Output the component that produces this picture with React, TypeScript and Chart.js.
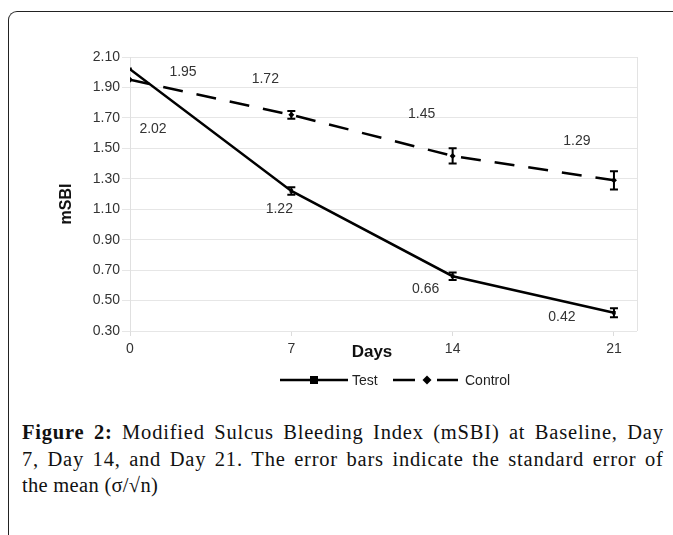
import React, { useEffect, useRef } from "react";
import { Chart, registerables } from "chart.js";

Chart.register(...registerables);

const days = [0, 7, 14, 21];
const testValues = [2.02, 1.22, 0.66, 0.42];
const controlValues = [1.95, 1.72, 1.45, 1.29];
const testErrors = [0, 0.025, 0.025, 0.03];
const controlErrors = [0, 0.025, 0.05, 0.06];
const xTicks = [0, 7, 14, 21];
const yTicks = [0.3, 0.5, 0.7, 0.9, 1.1, 1.3, 1.5, 1.7, 1.9, 2.1];
const seriesNames = ["Test", "Control"];
const xTitle = "Days";
const yTitle = "mSBI";

// label placement offsets (px) relative to each point
const testLabelOffsets = [[23, 60], [-12, 18], [-27, 13], [-52, 4]];
const controlLabelOffsets = [[53, -8], [-26, -36], [-31, -42], [-37, -39]];

const FONT = "'Liberation Sans', Arial, sans-serif";

const overlayPlugin = {
  id: "overlay",
  beforeDatasetsDraw(chart: any) {
    const { ctx, chartArea } = chart;
    ctx.save();
    ctx.strokeStyle = "#e3e3e3";
    ctx.lineWidth = 1;
    ctx.beginPath();
    ctx.moveTo(chartArea.right + 0.5, chartArea.top);
    ctx.lineTo(chartArea.right + 0.5, chartArea.bottom);
    ctx.stroke();
    ctx.restore();
  },
  afterDatasetsDraw(chart: any) {
    const { ctx } = chart;
    const yScale = chart.scales.y;
    const errs = [testErrors, controlErrors];
    const vals = [testValues, controlValues];
    const offs = [testLabelOffsets, controlLabelOffsets];
    ctx.save();
    for (let i = 0; i < 2; i++) {
      const meta = chart.getDatasetMeta(i);
      meta.data.forEach((pt: any, j: number) => {
        const e = errs[i][j];
        const v = vals[i][j];
        const x = pt.x;
        if (e > 0) {
          const yT = yScale.getPixelForValue(v + e);
          const yB = yScale.getPixelForValue(v - e);
          ctx.strokeStyle = "#000";
          ctx.lineWidth = 2;
          ctx.setLineDash([]);
          ctx.beginPath();
          ctx.moveTo(x, yT);
          ctx.lineTo(x, yB);
          ctx.moveTo(x - 4, yT);
          ctx.lineTo(x + 4, yT);
          ctx.moveTo(x - 4, yB);
          ctx.lineTo(x + 4, yB);
          ctx.stroke();
        }
        ctx.fillStyle = "#333";
        ctx.font = `14px ${FONT}`;
        ctx.textAlign = "center";
        ctx.textBaseline = "middle";
        ctx.fillText(v.toFixed(2), x + offs[i][j][0], pt.y + offs[i][j][1]);
      });
    }
    ctx.restore();
  },
  afterDraw(chart: any) {
    const { ctx, chartArea } = chart;
    ctx.save();
    // axis titles
    ctx.fillStyle = "#111";
    ctx.font = `bold 17px ${FONT}`;
    ctx.textAlign = "center";
    ctx.textBaseline = "middle";
    ctx.fillText(xTitle, 372, 352);
    ctx.save();
    ctx.translate(67, (chartArea.top + chartArea.bottom) / 2 + 10);
    ctx.rotate(-Math.PI / 2);
    ctx.font = `bold 16px ${FONT}`;
    ctx.fillText(yTitle, 0, 0);
    ctx.restore();

    // legend
    const ly = 380;
    ctx.strokeStyle = "#000";
    ctx.fillStyle = "#000";
    ctx.lineWidth = 2.5;
    ctx.setLineDash([]);
    ctx.beginPath();
    ctx.moveTo(280, ly);
    ctx.lineTo(348, ly);
    ctx.stroke();
    ctx.fillRect(310, ly - 4, 8, 8);
    ctx.beginPath();
    ctx.moveTo(393, ly);
    ctx.lineTo(415, ly);
    ctx.moveTo(437, ly);
    ctx.lineTo(458, ly);
    ctx.stroke();
    ctx.beginPath();
    ctx.moveTo(427, ly - 4.5);
    ctx.lineTo(431.5, ly);
    ctx.lineTo(427, ly + 4.5);
    ctx.lineTo(422.5, ly);
    ctx.closePath();
    ctx.fill();
    ctx.fillStyle = "#222";
    ctx.font = `14px ${FONT}`;
    ctx.textAlign = "left";
    ctx.textBaseline = "middle";
    ctx.fillText(seriesNames[0], 352, ly + 1);
    ctx.fillText(seriesNames[1], 465, ly + 1);
    ctx.restore();
  },
};

export default function App() {
  const ref = useRef<HTMLCanvasElement | null>(null);

  useEffect(() => {
    if (!ref.current) return;
    const chart = new Chart(ref.current, {
      type: "line",
      data: {
        datasets: [
          {
            label: seriesNames[0],
            data: days.map((d, i) => ({ x: d, y: testValues[i] })),
            borderColor: "#000",
            backgroundColor: "#000",
            borderWidth: 2.5,
            pointStyle: "rect",
            pointRadius: 2.5,
            pointBorderWidth: 0,
            tension: 0,
          },
          {
            label: seriesNames[1],
            data: days.map((d, i) => ({ x: d, y: controlValues[i] })),
            borderColor: "#000",
            backgroundColor: "#000",
            borderWidth: 2.5,
            borderDash: [20, 14],
            pointStyle: "rectRot",
            pointRadius: 3,
            pointBorderWidth: 0,
            tension: 0,
          },
        ],
      },
      options: {
        animation: false,
        responsive: false,
        devicePixelRatio: 1,
        layout: { padding: { left: 0, top: 57, right: 36, bottom: 39 } },
        plugins: { legend: { display: false }, tooltip: { enabled: false } },
        scales: {
          x: {
            type: "linear",
            min: 0,
            max: 22,
            afterBuildTicks: (s: any) => {
              s.ticks = xTicks.map((v) => ({ value: v }));
            },
            afterFit: (s: any) => {
              s.height = 30;
            },
            grid: {
              drawOnChartArea: false,
              drawTicks: true,
              tickLength: 5,
              color: "#dcdcdc",
            },
            border: { display: false },
            ticks: {
              padding: 5,
              color: "#333",
              font: { family: FONT, size: 14 },
              maxRotation: 0,
            },
          },
          y: {
            type: "linear",
            min: 0.3,
            max: 2.1,
            afterBuildTicks: (s: any) => {
              s.ticks = yTicks.map((v) => ({ value: v }));
            },
            afterFit: (s: any) => {
              s.width = 130;
            },
            grid: { color: "#e6e6e6", tickLength: 8, lineWidth: 1 },
            border: { display: true, color: "#e0e0e0" },
            ticks: {
              padding: 2,
              color: "#333",
              font: { family: FONT, size: 14 },
              callback: (v: any) => Number(v).toFixed(2),
            },
          },
        },
      },
      plugins: [overlayPlugin],
    });
    return () => chart.destroy();
  }, []);

  const rowStyle: React.CSSProperties = {
    display: "flex",
    justifyContent: "space-between",
    marginRight: -0.8,
  };

  return (
    <div
      style={{
        position: "absolute",
        left: 0,
        top: 0,
        width: 673,
        height: 535,
        overflow: "hidden",
        background: "#fff",
      }}
    >
      <div
        style={{
          position: "absolute",
          left: 8,
          top: 11,
          width: 720,
          height: 600,
          borderTop: "1.5px solid #222",
          borderLeft: "1.5px solid #222",
          borderTopLeftRadius: 9,
        }}
      />
      <canvas
        ref={ref}
        width={673}
        height={400}
        style={{ position: "absolute", left: 0, top: 0, width: 673, height: 400 }}
      />
      <div
        style={{
          position: "absolute",
          left: 22,
          top: 419,
          width: 641,
          fontFamily: "'Liberation Serif', 'Times New Roman', serif",
          fontSize: 20.5,
          letterSpacing: 0.8,
          lineHeight: "26.5px",
          color: "#111",
        }}
      >
        <div style={rowStyle}>
          {"Figure 2: Modified Sulcus Bleeding Index (mSBI) at Baseline, Day"
            .split(" ")
            .map((w, i) => (
              <span key={i} style={{ fontWeight: i < 2 ? "bold" : "normal" }}>
                {w}
              </span>
            ))}
        </div>
        <div style={rowStyle}>
          {"7, Day 14, and Day 21. The error bars indicate the standard error of"
            .split(" ")
            .map((w, i) => (
              <span key={i}>{w}</span>
            ))}
        </div>
        <div style={{ letterSpacing: 0.3 }}>the mean (σ/√n)</div>
      </div>
    </div>
  );
}
